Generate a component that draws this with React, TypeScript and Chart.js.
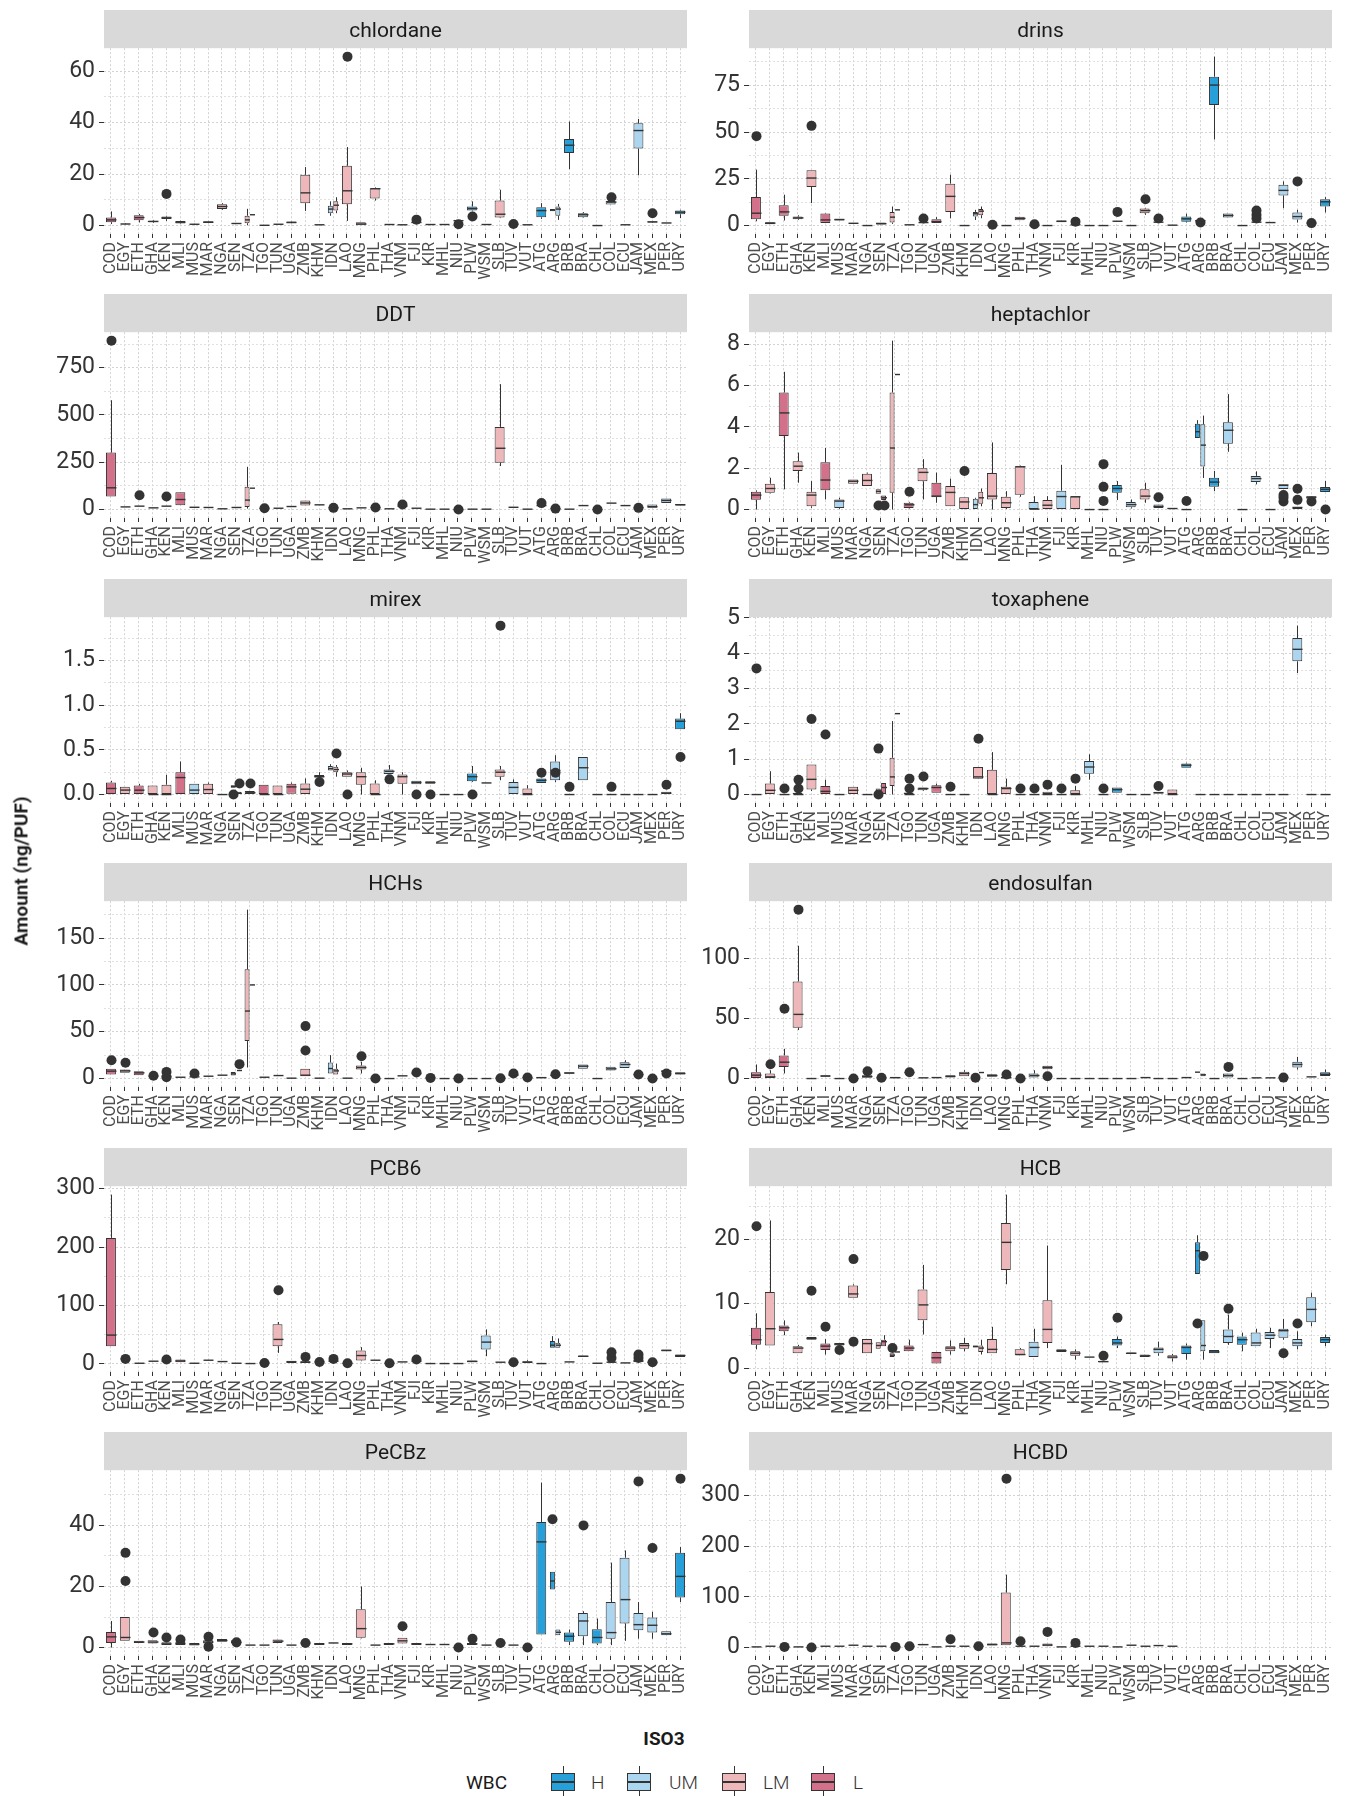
import React, { useEffect, useRef } from "react";
import { Chart, registerables } from "chart.js";

Chart.register(...registerables);
Chart.defaults.font.family = "Roboto";

// ---------------- DATA ----------------
const countries = ["COD","EGY","ETH","GHA","KEN","MLI","MUS","MAR","NGA","SEN","TZA","TGO","TUN","UGA","ZMB","KHM","IDN","LAO","MNG","PHL","THA","VNM","FJI","KIR","MHL","NIU","PLW","WSM","SLB","TUV","VUT","ATG","ARG","BRB","BRA","CHL","COL","ECU","JAM","MEX","PER","URY"];
const countryWbc = ["L","LM","L","LM","LM","L","UM","LM","LM","LM","LM","L","LM","L","LM","LM","LM","LM","LM","LM","UM","LM","UM","LM","UM","UM","H","UM","LM","UM","LM","H","UM","H","UM","H","UM","UM","UM","UM","UM","H"];
const wbcLevels = ["H", "UM", "LM", "L"];
const wbcColors = ["#27a0da", "#acd5ef", "#eeb7ba", "#d4718a"];

// row: [iso, lo, q1, median, q3, hi, outliers?, wbcOverride?]  or flat: [iso, value, outliers?, wbc?]
const chlordane: any[] = [
  ["COD",0.6,1.3,2.2,3.1,5.5],["EGY",0.4,0.5,0.6,0.7,0.9],["ETH",1.2,2.1,3.1,4.0,4.5],["GHA",1.0,1.3,1.6,1.9,2.2],
  ["KEN",1.8,2.5,3.0,3.5,3.8,[12.3]],["MLI",0.6,0.8,1.3,1.8,1.9],["MUS",0.4,0.5,0.5,0.6,0.7],["MAR",0.9,1.0,1.3,1.7,1.8],
  ["NGA",6.1,6.4,7.4,8.3,8.7],["SEN",0.6,0.7,0.8,0.9,1.0],["TZA",0.1,0.9,2.2,3.8,6.5],["TZA",4.2,[],"L"],
  ["TGO",0.1],["TUN",0.5],["UGA",0.8,0.9,1.2,1.6,1.7],["ZMB",5.7,8.7,12.7,19.7,22.7],["KHM",0.3],
  ["IDN",3.8,4.8,6.4,7.7,9.4,[],"UM"],["IDN",4.8,5.8,7.9,9.4,11.0],["LAO",1.8,8.3,13.5,23.2,30.5,[65.6]],
  ["MNG",0.1,0.1,0.6,1.3,1.3],["PHL",9.7,10.5,14.3,14.5,14.8],["THA",0.4],["VNM",0.3],["FJI",1.0,1.0,1.2,1.5,1.6,[2.3]],
  ["KIR",0.4],["MHL",0.4],["NIU",1.9,[0.5]],["PLW",5.5,5.8,6.6,7.4,9.4,[3.5]],["WSM",0.4],["SLB",2.9,3.1,4.4,9.7,13.9],
  ["TUV",0.5,[0.6]],["VUT",0.3],["ATG",2.6,3.2,5.8,7.1,8.7],["ARG",5.6,5.6,6.0,6.4,6.4,[],"H"],["ARG",2.2,3.8,6.4,7.4,8.4],
  ["BRB",21.9,28.2,31.2,33.6,40.4],["BRA",3.0,3.2,4.2,4.8,5.2],["CHL",0],["COL",8.2,8.2,9.1,9.5,10.0,[11.0]],["ECU",0.3],
  ["JAM",19.5,29.9,36.9,39.7,41.4],["MEX",1.0,1.2,1.4,1.7,1.8,[4.8]],["PER",1.0],["URY",2.9,4.4,5.2,5.8,6.1]
];
const drins: any[] = [
  ["COD",2.3,3.4,6.6,15.2,29.9,[47.8]],["EGY",0.7,0.7,1.3,1.8,1.8],["ETH",2.7,5.2,7.3,10.9,16.5],["GHA",3.0,3.4,4.1,4.8,5.5],
  ["KEN",12.0,20.6,25.4,29.5,29.5,[53.3]],["MLI",1.3,1.4,3.0,6.4,6.6],["MUS",2.7,2.7,3.2,3.6,3.6],["MAR",1.2],["NGA",0],
  ["SEN",0.5,0.5,1.0,1.6,1.6],["TZA",0.9,1.6,4.5,7.2,10.2],["TZA",8.4,[],"L"],["TGO",0.4],["TUN",1.6,[3.8]],
  ["UGA",1.3,1.3,2.1,3.4,4.5],["ZMB",3.9,7.2,15.6,22.4,27.2],["KHM",0],["IDN",3.0,4.8,6.3,7.3,8.4,[],"UM"],
  ["IDN",3.9,5.5,7.7,8.8,10.2],["LAO",0,[0.4]],["MNG",0],["PHL",2.9,2.9,3.8,4.7,4.7],["THA",0,[0.7]],["VNM",0],
  ["FJI",1.8,1.8,2.3,2.7,2.7],["KIR",0.4,[2.1]],["MHL",0],["NIU",0],["PLW",2.3,[7.3]],["WSM",0],
  ["SLB",5.7,6.6,8.0,9.1,9.5,[14.1]],["TUV",1.8,[3.8]],["VUT",0.2],["ATG",1.6,2.1,3.6,4.8,6.3],["ARG",2.1,2.1,2.6,3.0,3.0,[1.6]],
  ["BRB",46.0,64.4,75.1,79.6,90.3],["BRA",4.3,4.3,5.4,6.4,6.4],["CHL",0],["COL",1.8,[3.8,5.7,8.0]],["ECU",1.6],
  ["JAM",9.3,16.1,18.8,21.8,23.6],["MEX",1.6,3.2,4.8,7.0,8.4,[23.6]],["PER",1.3,[1.3]],["URY",7.0,10.2,12.7,14.1,15.2]
];
const ddt: any[] = [
  ["COD",69,69,115,301,578,[893]],["EGY",14],["ETH",18,[76]],["GHA",9],["KEN",18,[69]],["MLI",23,23,53,92,92],
  ["MUS",12],["MAR",11],["NGA",4],["SEN",11],["TZA",5,14,50,120,226],["TZA",113,[],"L"],["TGO",7,[7]],["TUN",7],["UGA",16],
  ["ZMB",21,21,35,48,48],["KHM",25],["IDN",9,[9]],["LAO",4],["MNG",9],["PHL",11,[11]],["THA",4],["VNM",18,[27]],
  ["FJI",7],["KIR",2],["MHL",2],["NIU",0,[0]],["PLW",2],["WSM",2],["SLB",230,248,324,437,663],["TUV",12],["VUT",2],
  ["ATG",21,[34]],["ARG",5,[5]],["BRB",2],["BRA",21],["CHL",0,[0]],["COL",34],["ECU",21],["JAM",9,[9]],
  ["MEX",9,9,15,27,27],["PER",35,35,48,58,58],["URY",21,21,25,30,30]
];
const heptachlor: any[] = [
  ["COD",0,0.47,0.70,0.86,0.93],["EGY",0.78,0.81,1.02,1.25,1.54],["ETH",0.98,3.56,4.68,5.67,6.67],["GHA",1.3,1.87,2.1,2.34,2.76],
  ["KEN",0.08,0.16,0.7,0.86,1.38],["MLI",0.49,0.93,1.43,2.29,2.98],["MUS",0.03,0.07,0.41,0.49,0.57],["MAR",1.25,1.25,1.37,1.45,1.45],
  ["NGA",1.14,1.14,1.41,1.74,1.79],["SEN",0.76,0.76,0.88,0.98,0.98,[0.2]],["SEN",0.46,0.46,0.57,0.68,0.68,[0.2],"L"],
  ["TZA",0,0.81,2.98,5.67,8.18],["TZA",6.54,[],"L"],["TGO",0.05,0.08,0.23,0.33,0.37,[0.86]],["TUN",0.49,1.37,1.8,2.0,2.44],
  ["UGA",0.33,0.6,0.65,1.3,1.79],["ZMB",0.16,0.16,0.83,1.14,1.5],["KHM",0.03,0.03,0.37,0.6,0.6,[1.87]],
  ["IDN",0,0,0.24,0.52,0.57,[],"UM"],["IDN",0.16,0.28,0.57,0.86,1.02],["LAO",0,0.49,0.65,1.77,3.25],["MNG",0.03,0.08,0.33,0.62,0.89],
  ["PHL",0.62,0.72,2.07,2.1,2.13],["THA",0,0,0.02,0.37,0.65],["VNM",0,0,0.21,0.46,0.65],["FJI",0,0,0.63,0.91,2.16],
  ["KIR",0.03,0.03,0.62,0.63,0.63],["MHL",0],["NIU",0,[0.42,1.1,2.2]],["PLW",0.46,0.81,1.02,1.19,1.38],
  ["WSM",0.05,0.11,0.24,0.36,0.49],["SLB",0.33,0.49,0.65,0.98,1.3],["TUV",0.07,0.07,0.15,0.24,0.24,[0.6]],["VUT",0,0,0.05,0.08,0.08],
  ["ATG",0,[0.41]],["ARG",3.46,3.46,3.77,4.15,4.33,[],"H"],["ARG",1.53,2.08,3.12,4.13,4.55],["BRB",0.89,1.1,1.33,1.54,1.87],
  ["BRA",2.8,3.19,3.84,4.23,5.59],["CHL",0],["COL",1.22,1.33,1.5,1.63,1.85],["ECU",0],["JAM",0.99,0.99,1.19,1.19,1.19,[0.39,0.57,0.7]],
  ["MEX",0,0,0.1,0.11,0.11,[0.47,1.01]],["PER",0.52,0.52,0.6,0.65,0.65,[0.39]],["URY",0.85,0.85,0.98,1.09,1.38,[0]]
];
const mirex: any[] = [
  ["COD",0,0,0.068,0.135,0.154],["EGY",0,0,0.05,0.086,0.086],["ETH",0,0,0.049,0.1,0.12],["GHA",0,0,0,0.1,0.1],["KEN",0,0,0,0.11,0.22],
  ["MLI",0,0,0.19,0.25,0.37],["MUS",0,0,0.05,0.12,0.12],["MAR",0,0,0.056,0.12,0.135],["NGA",0],
  ["SEN",0.075,0.075,0.09,0.105,0.105,[0]],["SEN",0,0,0.015,0.03,0.03,[0.124],"L"],["TZA",0,0,0.02,0.04,0.04,[0.124]],
  ["TGO",0,0,0,0.11,0.11],["TUN",0,0,0,0.1,0.1],["UGA",0.01,0.01,0.086,0.12,0.135],["ZMB",0,0,0.06,0.124,0.18],
  ["KHM",0.19,0.19,0.2,0.22,0.25,[0.14]],["IDN",0.27,0.27,0.29,0.32,0.34,[],"UM"],["IDN",0.2,0.25,0.28,0.31,0.33,[0.46]],
  ["LAO",0.2,0.2,0.23,0.25,0.27,[0]],["MNG",0,0.11,0.2,0.25,0.3],["PHL",0,0,0,0.124,0.16],["THA",0.23,0.23,0.26,0.28,0.33,[0.17]],
  ["VNM",0,0.12,0.2,0.225,0.25],["FJI",0.116,0.116,0.135,0.154,0.154,[0]],["KIR",0.12,0.12,0.135,0.15,0.15,[0]],["MHL",0],["NIU",0],
  ["PLW",0.14,0.15,0.2,0.236,0.32,[0]],["WSM",0.13],["SLB",0.16,0.2,0.25,0.28,0.32,[1.89]],["TUV",0,0,0.08,0.14,0.17],
  ["VUT",0,0,0,0.068,0.105],["ATG",0.13,0.13,0.16,0.18,0.18,[0.244]],["ARG",0.14,0.16,0.27,0.37,0.44,[0.244]],["BRB",0,[0.086]],
  ["BRA",0.16,0.16,0.3,0.42,0.42],["CHL",0],["COL",0,[0.086]],["ECU",0],["JAM",0],["MEX",0],["PER",0,0,0.015,0.03,0.03,[0.11]],
  ["URY",0.73,0.73,0.82,0.85,0.91,[0.42]]
];
const toxaphene: any[] = [
  ["COD",0,[3.57]],["EGY",0,0,0.12,0.31,0.66],["ETH",0,[0.17]],["GHA",0,0,0,0.05,0.05,[0.17,0.42]],["KEN",0.1,0.14,0.43,0.85,0.85,[2.14]],
  ["MLI",0,0,0.09,0.24,0.42,[1.7]],["MUS",0],["MAR",0,0,0.12,0.22,0.22],["NGA",0],["SEN",0.05,0.05,0.1,0.17,0.17,[0,1.3]],
  ["SEN",0,0,0.2,0.33,0.33,[],"L"],["TZA",0,0.24,0.5,1.04,2.08],["TZA",2.29,[],"L"],["TGO",0,0,0,0.06,0.06,[0.17,0.45]],
  ["TUN",0.1,0.12,0.17,0.2,0.2,[0.51]],["UGA",0.05,0.05,0.2,0.26,0.31],["ZMB",0,[0.22]],["KHM",0],["IDN",0.45,0.45,0.5,0.78,0.78,[1.58]],
  ["LAO",0,0,0,0.7,1.2],["MNG",0,0,0.17,0.22,0.45],["PHL",0,[0.17]],["THA",0,[0.17]],["VNM",0,0,0,0.08,0.08,[0.28]],["FJI",0,[0.17]],
  ["KIR",0,0,0,0.12,0.24,[0.45]],["MHL",0.42,0.59,0.78,0.95,1.14],["NIU",0,[0.17]],["PLW",0.05,0.05,0.14,0.2,0.2],["WSM",0],["SLB",0],
  ["TUV",0.03,0.03,0.05,0.08,0.08,[0.24]],["VUT",0,0,0,0.14,0.14],["ATG",0.76,0.76,0.83,0.88,0.9],["ARG",0],["BRB",0],["BRA",0],
  ["CHL",0],["COL",0],["ECU",0],["JAM",0],["MEX",3.44,3.77,4.11,4.43,4.78],["PER",0],["URY",0]
];
const hchs: any[] = [
  ["COD",4.3,4.3,7.9,10.4,10.4,[19.6]],["EGY",6.1,6.1,8.2,9.6,9.6,[16.8]],["ETH",3.6,3.6,6.1,7.9,7.9],["GHA",2.5,[2.9]],
  ["KEN",2.5,[1.4,7.1]],["MLI",1.4],["MUS",1.8,[5.4]],["MAR",2.5],["NGA",3.6],["SEN",3.2,3.2,5.0,7.1,7.1],["SEN",8.6,[15.4],"L"],
  ["TZA",11.8,40,72.1,116.8,180.4],["TZA",100,[],"L"],["TGO",1.4],["TUN",3.2],["UGA",0.4],["ZMB",2.5,2.5,3.6,10.4,10.4,[30,56]],
  ["KHM",0.4],["IDN",5.4,5.4,10.7,17.1,25,[],"UM"],["IDN",4.3,4.3,8.2,10.4,16],["LAO",0.4],["MNG",5.4,9.6,11.8,13.9,17.9,[23.9]],
  ["PHL",0,[0]],["THA",0],["VNM",2.9],["FJI",5.4,[6.4]],["KIR",0.7,[0.7]],["MHL",0],["NIU",0,[0]],["PLW",0],["WSM",0],["SLB",0.4,[0.4]],
  ["TUV",2.9,2.9,3.7,4.6,4.6,[5.4]],["VUT",1.1,[1.1]],["ATG",0,0,0.9,1.8,1.8],["ARG",2.9,2.9,3.4,3.9,3.9,[4.6]],["BRB",5.0,5.0,5.9,6.8,6.8],
  ["BRA",10.4,10.4,13.2,15,15],["CHL",0],["COL",8.6,8.6,10.4,12.5,12.5],["ECU",11.4,11.4,15,17.5,19.6],["JAM",4.3,[4.3]],["MEX",0,[0]],
  ["PER",6.8,6.8,7.8,8.9,8.9,[5.4]],["URY",4.3,4.3,5.4,6.8,6.8]
];
const endosulfan: any[] = [
  ["COD",0,0,2.8,5.3,11.7],["EGY",0,0,1.4,4.2,6.9,[11.9]],["ETH",4.2,9.7,13.6,19.2,24.7,[58]],["GHA",40.3,42.2,53.3,80.6,110.3,[140.3]],
  ["KEN",0],["MLI",1.4,1.4,2.1,2.8,2.8],["MUS",0],["MAR",0,[0]],["NGA",0.6,0.6,1.7,2.8,2.8,[6.1]],["SEN",0.6,[0.6]],["TZA",0,0,0.7,1.4,1.4],
  ["TGO",5.0,[5.3]],["TUN",0.6],["UGA",0.8],["ZMB",0.8,0.8,1.8,2.8,2.8],["KHM",1.9,1.9,4.2,5.6,6.9],["IDN",0.6,[0.6],"UM"],["IDN",5.0],
  ["LAO",1.4,1.4,2.5,3.6,3.6],["MNG",0,0,0.7,1.4,1.4,[3.3]],["PHL",0,[0]],["THA",0.8,0.8,2.5,4.2,6.9],["VNM",7.8,7.8,9.2,10.6,10.6,[1.9]],
  ["FJI",0],["KIR",0],["MHL",0],["NIU",0],["PLW",0],["WSM",0],["SLB",0.8],["TUV",0],["VUT",0],["ATG",0.8],["ARG",5.3,[],"H"],
  ["ARG",1.9,1.9,3.1,4.2,4.2],["BRB",0],["BRA",0.8,0.8,2.5,4.2,4.2,[9.7]],["CHL",0],["COL",0.6],["ECU",0.6],["JAM",0.8,[0.8]],
  ["MEX",7.5,9.2,11.7,13.9,18],["PER",1.4],["URY",2.2,2.2,3.5,5.3,7.5]
];
const pcb6: any[] = [
  ["COD",30.4,30.4,49.3,215.7,289.7],["EGY",8.6,[8.6]],["ETH",1.1],["GHA",4.6],["KEN",4.6,[7.5]],["MLI",2.9,2.9,5,7.5,7.5],["MUS",1.1],
  ["MAR",6.3],["NGA",4],["SEN",1.1],["TZA",0.6],["TGO",1.7,[1.7]],["TUN",18.9,30.4,41.9,67.7,71.7,[126.2]],["UGA",1.7,1.7,3.5,5.2,5.2],
  ["ZMB",1.7,1.7,3,4.6,4.6,[12]],["KHM",3.4,[3.4]],["IDN",4.6,[8.6]],["LAO",1.1,[1.1]],["MNG",4.6,5.7,14.3,23,28.7],["PHL",6.3],
  ["THA",1.1,[1.1]],["VNM",3.4],["FJI",4.6,[7.5]],["KIR",0.6],["MHL",0.6],["NIU",0.6],["PLW",2.9,2.9,4.3,5.7,5.7],
  ["WSM",13.2,24.7,37.3,48.8,59.1],["SLB",2.9],["TUV",2.9,[2.9]],["VUT",1.7,1.7,3,4.6,6.3],["ATG",0.6],["ARG",27.5,27.5,32,39,47.6,[],"H"],
  ["ARG",27.5,27.5,32,36,43.6],["BRB",3.4],["BRA",12,12,13,14.3,14.3],["CHL",1.1],["COL",2.9,[10.3,20]],["ECU",1.7],
  ["JAM",2.9,2.9,5,7.5,7.5,[10.3,16]],["MEX",2.9,[2.9]],["PER",21.8,21.8,23,24.7,24.7],["URY",12,12,14.3,16,16]
];
const hcb: any[] = [
  ["COD",2.9,3.6,4.4,6.25,8.5,[22]],["EGY",3.5,3.5,6.1,11.8,22.9],["ETH",5.1,5.7,6.25,6.6,7.4],["GHA",2.3,2.3,3.1,3.4,3.6],
  ["KEN",4.4,4.4,4.6,4.8,4.8,[12]],["MLI",2.1,2.8,3.4,3.8,4.5,[6.4]],["MUS",3.5,3.5,3.7,3.9,3.9,[2.8]],["MAR",10.9,10.9,11.5,12.8,13.0,[4.1,16.9]],
  ["NGA",2.3,2.3,3.8,4.5,4.5],["SEN",3.0,3.0,3.5,4.0,4.0],["SEN",3.4,3.4,4.1,4.4,5.1,[],"L"],["TZA",1.7,1.7,2.0,2.3,2.3,[3.1]],["TZA",2.5,[],"L"],
  ["TGO",2.6,2.6,3.1,3.5,4.4],["TUN",5.2,7.4,9.8,12.2,16],["UGA",0.7,0.7,1.6,2.5,2.5],["ZMB",2.1,2.6,3.1,3.4,4.3],["KHM",2.6,3.0,3.5,3.9,4.7],
  ["IDN",3.2,3.2,3.35,3.5,3.5,[],"UM"],["IDN",2.1,2.5,3.1,3.5,4.4],["LAO",2.3,2.3,2.9,4.5,6.4],["MNG",13,15.2,19.5,22.5,26.9],
  ["PHL",2.0,2.0,2.1,2.9,3.1],["THA",1.7,1.7,3.2,4.1,6.1],["VNM",3.1,3.9,6.0,10.5,19],["FJI",2.5,2.5,2.7,2.9,2.9],["KIR",1.3,1.9,2.3,2.6,2.9],
  ["MHL",1.7],["NIU",0.9,0.9,1.0,1.1,1.1,[1.9]],["PLW",3.1,3.5,3.9,4.5,4.9,[7.8]],["WSM",2.2,2.2,2.3,2.4,2.4],["SLB",1.7,1.7,1.9,2.1,2.1],
  ["TUV",1.9,2.3,2.9,3.2,4.1],["VUT",1.0,1.5,1.7,2.0,2.2],["ATG",1.3,2.2,3.2,3.5,3.8],["ARG",14.6,14.6,18.2,19.5,20.6,[6.9],"H"],
  ["ARG",1.3,2.6,3.5,7.4,7.4,[17.4]],["BRB",2.3,2.3,2.5,2.8,2.8],["BRA",3.6,3.9,4.9,6.0,8.3,[9.2]],["CHL",2.6,3.6,4.4,4.9,5.5],
  ["COL",3.4,3.4,3.9,5.5,6.1],["ECU",3.1,4.5,5.1,5.6,6.25],["JAM",4.4,4.7,5.8,6.1,7.6,[2.3]],["MEX",2.9,3.4,3.9,4.5,5.7,[6.9]],
  ["PER",6.5,7.1,9.1,11.0,11.7],["URY",3.4,3.9,4.4,4.8,5.2]
];
const pecbz: any[] = [
  ["COD",0,1.5,3.5,5.1,8.7],["EGY",2.2,2.2,3.3,10,10,[21.8,31]],["ETH",1.5,1.5,1.8,2.2,2.2],["GHA",1.3,1.3,1.8,2.4,2.4,[4.9]],
  ["KEN",0.8,0.8,1.2,1.7,1.7,[3.3]],["MLI",0.8,0.8,1.3,1.9,1.9,[2.6]],["MUS",0.7,0.7,1.1,1.5,1.5],["MAR",1.3,1.3,1.8,2.4,2.4,[0.3,3.5]],
  ["NGA",1.9,1.9,2.3,2.8,2.8],["SEN",1.3,1.3,1.7,2.4,2.4,[1.7]],["TZA",0.8],["TGO",0.8],["TUN",1.5,1.5,2.1,2.6,2.6],["UGA",0.8],
  ["ZMB",1.5,[1.5]],["KHM",0.8,0.8,1.2,1.5,1.5],["IDN",1.5],["LAO",0.8,0.8,1.2,1.5,1.5],["MNG",3.0,3.2,6.2,12.5,20],["PHL",0.8],
  ["THA",0.8,0.8,1.2,1.5,1.5],["VNM",1.3,1.3,2.2,3.2,3.2,[7]],["FJI",0.8,0.8,1.2,1.5,1.5],["KIR",1.0],["MHL",1.0],["NIU",0,[0]],
  ["PLW",0.8,0.8,1.2,1.5,1.5,[2.9]],["WSM",0.8],["SLB",1.5,[1.5]],["TUV",0.8],["VUT",0,[0]],["ATG",4.3,4.3,34.6,41.1,54],
  ["ARG",19,19,21.8,24.8,24.8,[42],"H"],["ARG",4,4,5,5.9,5.9],["BRB",0.8,1.9,3.7,4.9,5.9],["BRA",0.8,3.7,8.7,11.3,11.9,[40]],
  ["CHL",0.8,1.3,3.3,6,9.5],["COL",0.8,2.9,4.9,14.9,27.8],["ECU",2.2,7.9,15.7,29.4,31.8],["JAM",2.9,5.7,7.5,11.3,14.9,[54.4]],
  ["MEX",2.9,4.9,7.3,9.8,11.7,[32.6]],["PER",4.0,4.0,4.5,5.3,5.3],["URY",14.9,16.4,23.3,31,32.9,[55.3]]
];
const hcbd: any[] = [
  ["COD",1.3],["EGY",2.6],["ETH",1.3,[1.3]],["GHA",1.3],["KEN",0,[0]],["MLI",2.6],["MUS",2.6],["MAR",4.6],["NGA",2.6],["SEN",2.6],
  ["TZA",1.3,[1.3]],["TGO",2.6,[2.6]],["TUN",4.6,4.6,5.8,7,7],["UGA",1.3],["ZMB",2.6,[16.4]],["KHM",2.6],["IDN",2.6,[2.6]],
  ["LAO",4,4,6,8,8],["MNG",4.6,4.6,9.2,108.5,143.8,[333]],["PHL",2.6,[12.5]],["THA",2.6],["VNM",2.6,2.6,5,8,8,[30.9]],["FJI",1.3],
  ["KIR",2.6,[9.2]],["MHL",2.6],["NIU",2.6],["PLW",1.3],["WSM",4.6],["SLB",2.6],["TUV",3.9],["VUT",2.6]
];

const chlordaneTicks = ["0", "20", "40", "60"];
const drinsTicks = ["0", "25", "50", "75"];
const ddtTicks = ["0", "250", "500", "750"];
const heptachlorTicks = ["0", "2", "4", "6", "8"];
const mirexTicks = ["0.0", "0.5", "1.0", "1.5"];
const toxapheneTicks = ["0", "1", "2", "3", "4", "5"];
const hchsTicks = ["0", "50", "100", "150"];
const endosulfanTicks = ["0", "50", "100"];
const pcb6Ticks = ["0", "100", "200", "300"];
const hcbTicks = ["0", "10", "20"];
const pecbzTicks = ["0", "20", "40"];
const hcbdTicks = ["0", "100", "200", "300"];

const panelNames = ["chlordane","drins","DDT","heptachlor","mirex","toxaphene","HCHs","endosulfan","PCB6","HCB","PeCBz","HCBD"];
const panelRows = [chlordane, drins, ddt, heptachlor, mirex, toxaphene, hchs, endosulfan, pcb6, hcb, pecbz, hcbd];
const panelTicks = [chlordaneTicks, drinsTicks, ddtTicks, heptachlorTicks, mirexTicks, toxapheneTicks, hchsTicks, endosulfanTicks, pcb6Ticks, hcbTicks, pecbzTicks, hcbdTicks];

// ---------------- STYLE ----------------
const LINE = "#333333";
const GRID = "#d3d3d3";
const GRID_MINOR = "#e0e0e0";
const STRIP_H = 38;
const PLOT_H = 186;
const XAXIS_H = 56;
const CANVAS_H = STRIP_H + PLOT_H + XAXIS_H;
const ROW_TOP0 = 10;
const ROW_PITCH = 284.4;
const COLS = [
  { left: 30, width: 657, yw: 74 },
  { left: 690, width: 642, yw: 59 },
];

function parseRow(r: any[]) {
  const iso = r[0];
  let nums: number[];
  let rest: any[];
  if (typeof r[2] === "number") {
    nums = r.slice(1, 6);
    rest = r.slice(6);
  } else {
    nums = [r[1], r[1], r[1], r[1], r[1]];
    rest = r.slice(2);
  }
  const out = Array.isArray(rest[0]) ? rest[0] : [];
  const last = rest[rest.length - 1];
  const ci = countries.indexOf(iso);
  const wbc = typeof last === "string" ? last : countryWbc[ci];
  return { ci, wbc, lo: nums[0], q1: nums[1], med: nums[2], q3: nums[3], hi: nums[4], out };
}

const stripPlugin = {
  id: "facetStrip",
  beforeDraw(chart: any) {
    const { ctx, chartArea } = chart;
    ctx.save();
    ctx.fillStyle = "#d9d9d9";
    ctx.fillRect(chartArea.left, 0, chartArea.right - chartArea.left, chartArea.top);
    ctx.restore();
  },
};

function drawBoxParts(chart: any, part: string) {
  const { ctx } = chart;
  const ys = chart.scales.y;
  chart.data.datasets.forEach((ds: any, di: number) => {
    const meta = chart.getDatasetMeta(di);
    meta.data.forEach((el: any, i: number) => {
      const s = ds.stats[i];
      if (!s) return;
      const x = Math.round(el.x) + 0.5;
      const w = el.width;
      ctx.save();
      ctx.strokeStyle = LINE;
      ctx.fillStyle = LINE;
      if (part === "whisker") {
        ctx.lineWidth = 1;
        ctx.beginPath();
        ctx.moveTo(x, ys.getPixelForValue(s.hi));
        ctx.lineTo(x, ys.getPixelForValue(s.q3));
        ctx.moveTo(x, ys.getPixelForValue(s.q1));
        ctx.lineTo(x, ys.getPixelForValue(s.lo));
        ctx.stroke();
      } else {
        ctx.lineWidth = 1.4;
        const ym = ys.getPixelForValue(s.med);
        ctx.beginPath();
        ctx.moveTo(x - w / 2, ym);
        ctx.lineTo(x + w / 2, ym);
        ctx.stroke();
        s.out.forEach((v: number) => {
          ctx.beginPath();
          ctx.arc(x, ys.getPixelForValue(v), 5, 0, Math.PI * 2);
          ctx.fill();
        });
      }
      ctx.restore();
    });
  });
}

const boxPlugin = {
  id: "boxWhiskers",
  beforeDatasetsDraw(chart: any) {
    drawBoxParts(chart, "whisker");
  },
  afterDatasetsDraw(chart: any) {
    drawBoxParts(chart, "top");
  },
};

function Panel({ idx }: { idx: number }) {
  const ref = useRef<HTMLCanvasElement>(null);
  const col = COLS[idx % 2];
  const top = ROW_TOP0 + ROW_PITCH * Math.floor(idx / 2);

  useEffect(() => {
    const rows = panelRows[idx].map(parseRow);
    const tickLabels = panelTicks[idx];
    let lo = Infinity;
    let hi = -Infinity;
    rows.forEach((r) => {
      [r.lo, r.hi, ...r.out].forEach((v) => {
        lo = Math.min(lo, v);
        hi = Math.max(hi, v);
      });
    });
    const span = hi - lo;
    const yMin = lo - 0.05 * span;
    const yMax = hi + 0.05 * span;
    const majors = tickLabels.map(Number);
    const step = majors[1] - majors[0];
    const tickObjs: any[] = majors.filter((v) => v >= yMin && v <= yMax + 1e-9).map((v) => ({ value: v, mj: true }));
    for (let v = majors[0] - step / 2; v <= yMax; v += step) {
      if (v >= yMin) tickObjs.push({ value: v, mj: false });
    }
    tickObjs.sort((a, b) => a.value - b.value);
    const labelFor = (v: number) => {
      const k = majors.findIndex((m) => Math.abs(m - v) < 1e-9);
      return k >= 0 ? tickLabels[k] : "";
    };

    const datasets = wbcLevels.map((w, wi) => {
      const data: any[] = countries.map(() => null);
      const stats: any[] = countries.map(() => null);
      rows.forEach((r) => {
        if (r.wbc !== w) return;
        data[r.ci] = [r.q1, r.q3];
        stats[r.ci] = r;
      });
      return {
        label: w,
        data,
        stats,
        backgroundColor: wbcColors[wi],
        borderColor: LINE,
        borderWidth: 1,
        borderSkipped: false,
        categoryPercentage: 0.78,
        barPercentage: 0.92,
        skipNull: true,
      };
    });

    const chart = new Chart(ref.current as HTMLCanvasElement, {
      type: "bar",
      data: { labels: countries, datasets: datasets as any },
      options: {
        animation: false,
        responsive: false,
        maintainAspectRatio: false,
        events: [],
        layout: { padding: 0 },
        plugins: {
          legend: { display: false },
          tooltip: { enabled: false },
          title: {
            display: true,
            text: panelNames[idx],
            fullSize: false,
            color: "#1a1a1a",
            font: { family: "Roboto", size: 21, weight: "normal", lineHeight: 1.2 },
            padding: { top: 9, bottom: 4 },
          },
        },
        scales: {
          x: {
            type: "category",
            offset: true,
            grid: {
              offset: false,
              color: GRID,
              lineWidth: 1,
              tickColor: LINE,
              tickLength: 4,
              tickWidth: 1,
              drawTicks: true,
            },
            border: { display: false, dash: [2, 2] },
            ticks: {
              autoSkip: false,
              minRotation: 90,
              maxRotation: 90,
              padding: 4,
              color: "#4d4d4d",
              font: { family: "Roboto", size: 16 },
            },
            afterFit: (s: any) => {
              s.height = XAXIS_H;
              s.paddingLeft = 0;
              s.paddingRight = 0;
            },
          },
          y: {
            type: "linear",
            min: yMin,
            max: yMax,
            afterBuildTicks: (s: any) => {
              s.ticks = tickObjs.map((t) => ({ value: t.value, mj: t.mj }));
            },
            afterFit: (s: any) => {
              s.width = col.yw;
              s.paddingTop = 0;
              s.paddingBottom = 0;
            },
            grid: {
              color: (c: any) => (c.tick && c.tick.mj ? GRID : GRID_MINOR),
              lineWidth: 1,
              tickLength: 5,
              tickWidth: 1,
              tickColor: (c: any) => (c.tick && c.tick.mj ? LINE : "rgba(0,0,0,0)"),
            },
            border: { display: false, dash: [2, 2] },
            ticks: {
              autoSkip: false,
              padding: 4,
              color: "#333333",
              font: { family: "Roboto", size: 23 },
              callback: (_v: any, i: number, ticks: any[]) => (ticks[i] && ticks[i].mj ? labelFor(ticks[i].value) : ""),
            },
          },
        },
      } as any,
      plugins: [stripPlugin, boxPlugin],
    });
    return () => chart.destroy();
  }, [idx]);

  return (
    <canvas
      ref={ref}
      width={col.width}
      height={CANVAS_H}
      style={{ position: "absolute", left: col.left, top, width: col.width, height: CANVAS_H }}
    />
  );
}

function LegendKey({ color, left }: { color: string; left: number }) {
  return (
    <div style={{ position: "absolute", left, top: 1766, width: 24, height: 31 }}>
      <div style={{ position: "absolute", left: 11.5, top: 0, width: 1, height: 31, background: LINE }} />
      <div
        style={{
          position: "absolute",
          left: 0,
          top: 7,
          width: 24,
          height: 18,
          boxSizing: "border-box",
          border: `1px solid ${LINE}`,
          background: color,
        }}
      />
      <div style={{ position: "absolute", left: 0, top: 15, width: 24, height: 1.5, background: LINE }} />
    </div>
  );
}

export default function App() {
  const legendLeft = [551, 627, 722, 811];
  const legendTextLeft = [591, 669, 763, 853];
  return (
    <div
      style={{
        position: "absolute",
        left: 0,
        top: 0,
        width: 1346,
        height: 1796,
        background: "#ffffff",
        overflow: "hidden",
        fontFamily: "Roboto, sans-serif",
      }}
    >
      {panelNames.map((_, i) => (
        <Panel key={i} idx={i} />
      ))}
      <div
        style={{
          position: "absolute",
          left: 21,
          top: 871,
          transform: "translate(-50%, -50%) rotate(-90deg)",
          whiteSpace: "nowrap",
          fontSize: 19,
          fontWeight: 700,
          color: "#1a1a1a",
        }}
      >
        Amount (ng/PUF)
      </div>
      <div
        style={{
          position: "absolute",
          left: 664,
          top: 1738,
          transform: "translate(-50%, -50%)",
          whiteSpace: "nowrap",
          fontSize: 19,
          fontWeight: 700,
          color: "#1a1a1a",
        }}
      >
        ISO3
      </div>
      <div
        style={{
          position: "absolute",
          left: 466,
          top: 1782,
          transform: "translateY(-50%)",
          fontSize: 19,
          color: "#1a1a1a",
        }}
      >
        WBC
      </div>
      {wbcLevels.map((w, i) => (
        <React.Fragment key={w}>
          <LegendKey color={wbcColors[i]} left={legendLeft[i]} />
          <div
            style={{
              position: "absolute",
              left: legendTextLeft[i],
              top: 1782,
              transform: "translateY(-50%)",
              fontSize: 19,
              fontWeight: 300,
              color: "#333333",
            }}
          >
            {w}
          </div>
        </React.Fragment>
      ))}
    </div>
  );
}
